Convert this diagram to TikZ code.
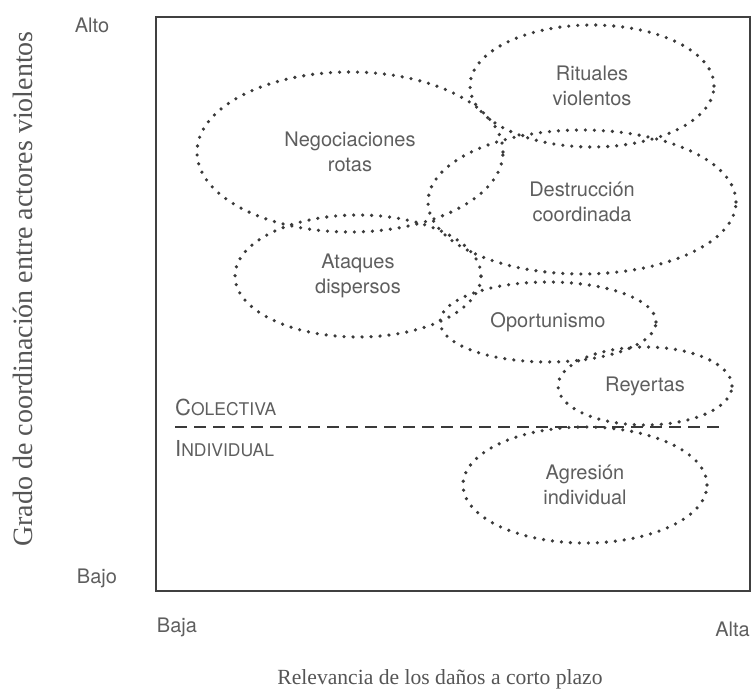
\documentclass[tikz,border=0pt]{standalone}
\usepackage{fontspec}
\setmainfont{Liberation Serif}
\setsansfont{TeX Gyre Heros}
\usetikzlibrary{shapes.geometric}
\definecolor{dotc}{HTML}{3A3A3A}
\definecolor{txtc}{HTML}{5E5E5E}
\definecolor{axc}{HTML}{555555}
\begin{document}
\begin{tikzpicture}[x=1pt,y=-1pt,
  zone/.style={ellipse, draw=dotc, line width=3.6pt, dash pattern=on 0pt off 9pt,
    line cap=round, inner sep=0pt, align=center, text=txtc,
    font=\sffamily\fontsize{20}{25}\selectfont},
  lbl/.style={text=txtc, font=\sffamily\fontsize{20}{24}\selectfont, inner sep=0pt},
  axlbl/.style={text=axc, inner sep=0pt},
  divline/.style={draw=dotc, line width=2.8pt, dash pattern=on 12pt off 7pt}
]
\useasboundingbox (0,0) rectangle (752,689);
\node[draw=black!75, line width=1.5pt, minimum width=594pt, minimum height=574pt,
  anchor=north west, inner sep=0pt] (frame) at (155,16) {};

\node[zone, minimum width=306pt, minimum height=160pt] (neg) at (350,152) {Negociaciones\\rotas};
\node[zone, minimum width=244pt, minimum height=122pt] (rit) at (592,86) {Rituales\\violentos};
\node[zone, minimum width=308pt, minimum height=144pt] (des) at (582,202) {Destrucción\\coordinada};
\node[zone, minimum width=246pt, minimum height=122pt] (ata) at (358,276) {Ataques\\dispersos};
\node[zone, minimum width=216pt, minimum height=80pt] (opo) at (548,322) {Oportunismo};
\node[zone, minimum width=174pt, minimum height=78pt] (rey) at (645,386) {Reyertas};
\node[zone, minimum width=244pt, minimum height=116pt] (agr) at (585,485) {Agresión\\individual};

\coordinate (dl) at (175,427);
\coordinate (dr) at (722,427);
\draw[divline] (dl) -- (dr);

\node[lbl, anchor=west] (col) at (175,407) {{\fontsize{22}{22}\selectfont C}{\fontsize{17.5}{18}\selectfont OLECTIVA}};
\node[lbl, anchor=west] (ind) at (175,449) {{\fontsize{22}{22}\selectfont I}{\fontsize{17.5}{18}\selectfont NDIVIDUAL}};

\node[lbl] (alto) at (92,25) {Alto};
\node[lbl] (bajo) at (97,578) {Bajo};
\node[lbl] (baja) at (177,627) {Baja};
\node[lbl, anchor=east] (alta) at (750,629) {Alta};

\node[axlbl, rotate=90, font=\fontsize{28}{28}\selectfont] (ylab) at (23,289)
  {Grado de coordinación entre actores violentos};
\node[axlbl, font=\fontsize{21.6}{22}\selectfont] (xlab) at (440,679)
  {Relevancia de los daños a corto plazo};
\end{tikzpicture}
\end{document}
